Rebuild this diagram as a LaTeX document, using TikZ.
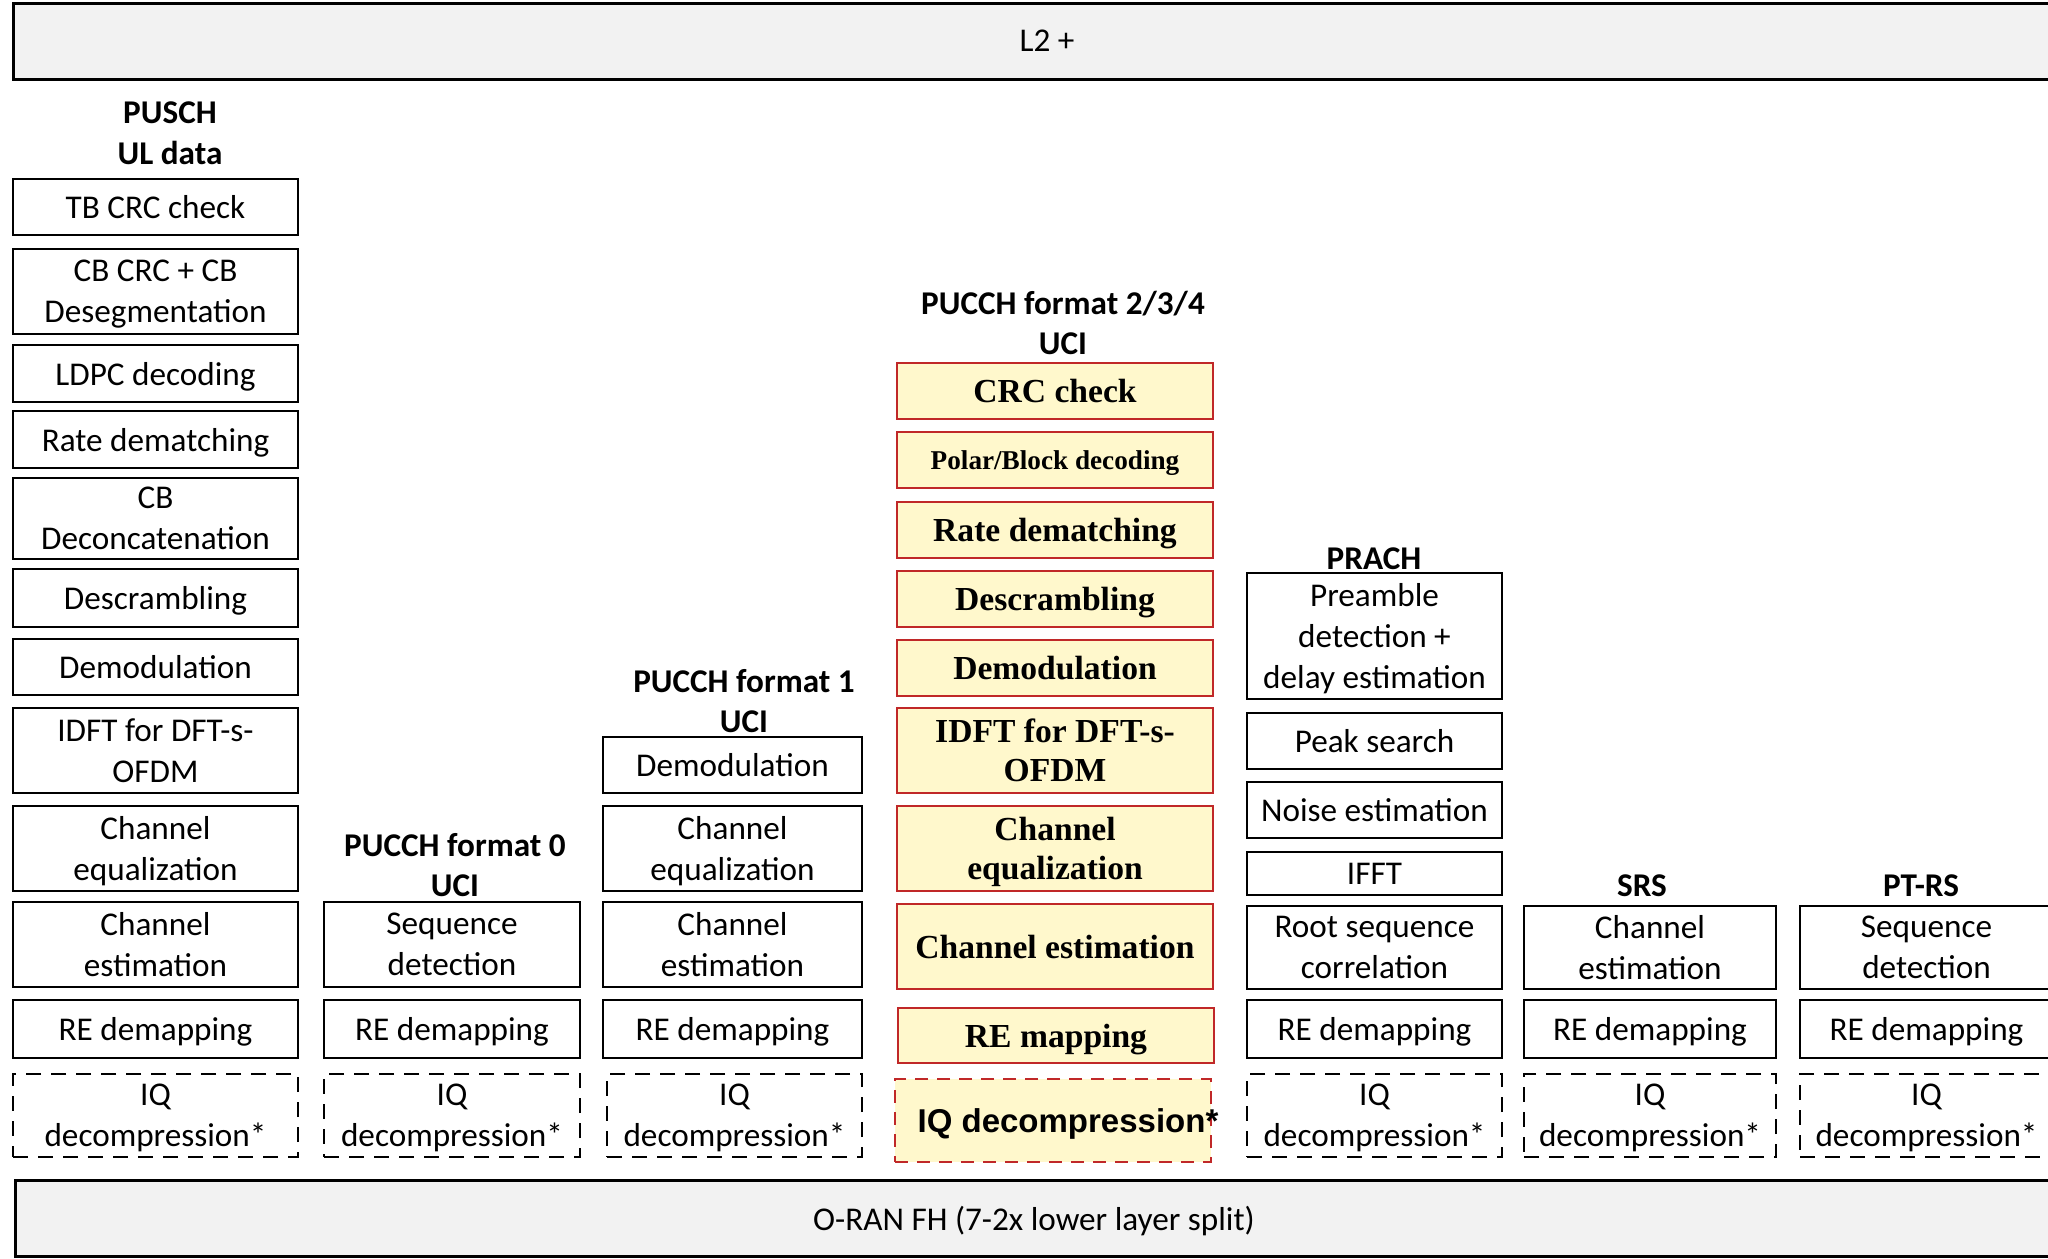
\documentclass[tikz,border=0pt]{standalone}
\usepackage{fontspec}
\setmainfont{Carlito}
\newfontfamily\tnr{Liberation Serif}
\newfontfamily\arl{Liberation Sans}
\definecolor{barfill}{RGB}{242,242,242}
\definecolor{ybg}{RGB}{255,248,204}
\definecolor{rborder}{RGB}{192,40,40}
\tikzset{
 blk/.style={draw=black, line width=1.3pt, fill=white, inner sep=0pt, outer sep=0pt, align=center, text depth=0pt, font=\fontsize{16.6}{20.3}\selectfont},
 dblk/.style={blk, dash pattern=on 7.5pt off 5pt},
 yblk/.style={draw=rborder, fill=ybg, line width=1.1pt, inner sep=0pt, outer sep=0pt, align=center, text depth=0pt, font=\tnr\bfseries\fontsize{16.8}{19.6}\selectfont},
 ysmall/.style={yblk, font=\tnr\bfseries\fontsize{13.6}{16}\selectfont},
 ydblk/.style={yblk, dash pattern=on 6.5pt off 4.5pt, font=\arl\bfseries\fontsize{16.5}{19.6}\selectfont},
 bar/.style={draw=black, line width=1.5pt, fill=barfill, inner sep=0pt, outer sep=0pt, text depth=0pt, font=\fontsize{16.6}{20.3}\selectfont},
 ttl/.style={align=center, inner sep=0pt, font=\bfseries\fontsize{16.6}{20.3}\selectfont},
}
\newcommand\Bx[7]{\node[#1, minimum width={(#5-#3)*0.5pt}, minimum height={(#6-#4)*0.5pt}] (#2) at ({(#3+#5)/2},{(#4+#6)/2}) {#7};}
\begin{document}
\begin{tikzpicture}[x=0.5pt,y=-0.5pt]
\useasboundingbox (0,0) rectangle (2048,1258);
\clip (0,0) rectangle (2048,1258);
\fill[white] (0,0) rectangle (2048,1258);
% bars
\Bx{bar}{l2}{13}{3}{2081}{79}{L2 +}
\Bx{bar}{fh}{15}{1180}{2053}{1256}{O-RAN FH (7-2x lower layer split)}
% titles
\node[ttl] (t1) at (170,133) {PUSCH\\UL data};
\node[ttl] (t2) at (455,865) {PUCCH format 0\\UCI};
\node[ttl] (t3) at (744,701) {PUCCH format 1\\UCI};
\node[ttl] (t4) at (1063,323) {PUCCH format 2/3/4\\UCI};
\node[ttl] (t5) at (1374,559) {PRACH};
\node[ttl] (t6) at (1642,886) {SRS};
\node[ttl] (t7) at (1921,886) {PT-RS};
% column 1: PUSCH
\Bx{blk}{p1}{13}{179}{298}{235}{TB CRC check}
\Bx{blk}{p2}{13}{249}{298}{334}{CB CRC + CB\\Desegmentation}
\Bx{blk}{p3}{13}{345}{298}{402}{LDPC decoding}
\Bx{blk}{p4}{13}{411}{298}{468}{Rate dematching}
\Bx{blk}{p5}{13}{478}{298}{559}{CB\\Deconcatenation}
\Bx{blk}{p6}{13}{569}{298}{627}{Descrambling}
\Bx{blk}{p7}{13}{639}{298}{695}{Demodulation}
\Bx{blk}{p8}{13}{708}{298}{793}{IDFT for DFT-s-\\OFDM}
\Bx{blk}{p9}{13}{806}{298}{891}{Channel\\equalization}
\Bx{blk}{p10}{13}{902}{298}{987}{Channel\\estimation}
\Bx{blk}{p11}{13}{1000}{298}{1058}{RE demapping}
\Bx{dblk}{p12}{13}{1074}{298}{1157}{IQ\\decompression*}
% column 2: PUCCH format 0
\Bx{blk}{a1}{324}{902}{580}{987}{Sequence\\detection}
\Bx{blk}{a2}{324}{1000}{580}{1058}{RE demapping}
\Bx{dblk}{a3}{324}{1074}{580}{1157}{IQ\\decompression*}
% column 3: PUCCH format 1
\Bx{blk}{b1}{603}{737}{862}{793}{Demodulation}
\Bx{blk}{b2}{603}{806}{862}{891}{Channel\\equalization}
\Bx{blk}{b3}{603}{902}{862}{987}{Channel\\estimation}
\Bx{blk}{b4}{603}{1000}{862}{1058}{RE demapping}
\Bx{dblk}{b5}{607}{1074}{862}{1157}{IQ\\decompression*}
% column 4: PUCCH format 2/3/4
\Bx{yblk}{c1}{897}{363}{1213}{419}{CRC check}
\Bx{ysmall}{c2}{897}{432}{1213}{488}{Polar/Block decoding}
\Bx{yblk}{c3}{897}{502}{1213}{558}{Rate dematching}
\Bx{yblk}{c4}{897}{571}{1213}{627}{Descrambling}
\Bx{yblk}{c5}{897}{640}{1213}{696}{Demodulation}
\Bx{yblk}{c6}{897}{708}{1213}{793}{IDFT for DFT-s-\\OFDM}
\Bx{yblk}{c7}{897}{806}{1213}{891}{Channel\\equalization}
\Bx{yblk}{c8}{897}{904}{1213}{989}{Channel estimation}
\Bx{yblk}{c9}{898}{1008}{1214}{1063}{RE mapping}
\Bx{ydblk}{c10}{895}{1079}{1211}{1162}{\makebox[0pt]{\hspace*{15pt}IQ decompression*}}
% column 5: PRACH
\Bx{blk}{d1}{1247}{573}{1502}{699}{Preamble\\detection +\\delay estimation}
\Bx{blk}{d2}{1247}{713}{1502}{769}{Peak search}
\Bx{blk}{d3}{1247}{782}{1502}{838}{Noise estimation}
\Bx{blk}{d4}{1247}{852}{1502}{895}{IFFT}
\Bx{blk}{d5}{1247}{906}{1502}{989}{Root sequence\\correlation}
\Bx{blk}{d6}{1247}{1000}{1502}{1058}{RE demapping}
\Bx{dblk}{d7}{1247}{1074}{1502}{1157}{IQ\\decompression*}
% column 6: SRS
\Bx{blk}{e1}{1524}{906}{1776}{989}{Channel\\estimation}
\Bx{blk}{e2}{1524}{1000}{1776}{1058}{RE demapping}
\Bx{dblk}{e3}{1524}{1074}{1776}{1157}{IQ\\decompression*}
% column 7: PT-RS
\Bx{blk}{f1}{1800}{906}{2053}{989}{Sequence\\detection}
\Bx{blk}{f2}{1800}{1000}{2053}{1058}{RE demapping}
\Bx{dblk}{f3}{1800}{1074}{2053}{1157}{IQ\\decompression*}
\end{tikzpicture}
\end{document}
